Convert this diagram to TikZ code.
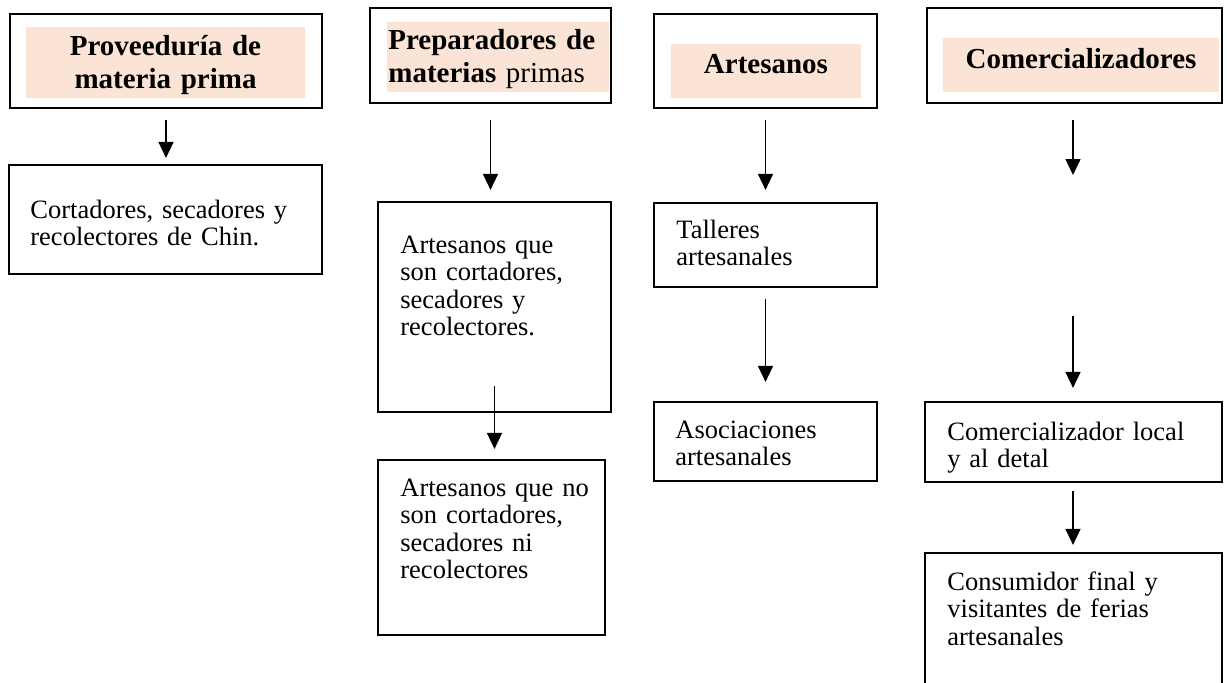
\documentclass[tikz,border=0pt]{standalone}
\usepackage{fontspec}
\setmainfont{Liberation Serif}
\usetikzlibrary{arrows.meta}
\definecolor{salmon}{HTML}{FBE4D5}
\tikzset{
	caja/.style={draw, line width=1.1pt, inner sep=0pt},
	sombra/.style={fill=salmon, draw=none, inner sep=0pt},
	titulo/.style={inner sep=0pt, font=\fontsize{14.5}{16.5}\selectfont\bfseries},
	texto/.style={inner sep=0pt, anchor=base west, align=left, text width=150pt, font=\fontsize{13.25}{13.75}\selectfont},
	flecha/.style={line width=0.8pt, -{Triangle[width=7.5pt,length=8pt]}}
}

\begin{document}
\begin{tikzpicture}[x=0.5pt, y=-0.5pt]
			%%%%% START %%%%%
			\clip (0,0) rectangle (1227,682);
			
			% cabeceras
			\node[caja, minimum width=156pt, minimum height=47pt] (hdrA) at (166,61) {};
			\node[sombra, minimum width=139.5pt, minimum height=35.5pt] (shA) at (165.5,62.5) {};
			\node[titulo, anchor=base, align=center, text width=139pt] (tHdrA) at (165.5,55) {Proveeduría de\\materia prima};
			
			\node[caja, minimum width=120.5pt, minimum height=47.5pt] (hdrB) at (490.5,55.5) {};
			\node[sombra, minimum width=111pt, minimum height=35pt] (shB) at (498,57) {};
			\node[titulo, anchor=base west, align=left, text width=111pt] (tHdrB) at (388,49) {Preparadores de\\materias {\mdseries primas}};
			
			\node[caja, minimum width=111.5pt, minimum height=47pt] (hdrC) at (765.5,61) {};
			\node[sombra, minimum width=95pt, minimum height=27pt] (shC) at (766,71) {};
			\node[titulo, anchor=base] (tHdrC) at (766,73) {Artesanos};
			
			\node[caja, minimum width=147.5pt, minimum height=47.5pt] (hdrD) at (1074.5,55.5) {};
			\node[sombra, minimum width=138pt, minimum height=27pt] (shD) at (1081,65) {};
			\node[titulo, anchor=base] (tHdrD) at (1081,68) {Comercializadores};
			
			% cajas
			\node[caja, minimum width=156.5pt, minimum height=54.5pt] (cortA) at (165.5,219.5) {};
			\node[texto] (tCortA) at (30,218) {Cortadores, secadores y\\recolectores de Chin.};
			
			\node[caja, minimum width=116.5pt, minimum height=105pt] (artQue) at (494.5,307) {};
			\node[texto] (tArtQue) at (400,253) {Artesanos que\\son cortadores,\\secadores y\\recolectores.};
			
			\node[caja, minimum width=113.5pt, minimum height=87.5pt] (artNo) at (491.5,547.5) {};
			\node[texto] (tArtNo) at (400,496) {Artesanos que no\\son cortadores,\\secadores ni\\recolectores};
			
			\node[caja, minimum width=111.5pt, minimum height=42pt] (talleres) at (765.5,245) {};
			\node[texto] (tTalleres) at (676,238) {Talleres\\artesanales};
			
			\node[caja, minimum width=111.5pt, minimum height=39.5pt] (asoc) at (765.5,441.5) {};
			\node[texto] (tAsoc) at (675,438) {Asociaciones\\artesanales};
			
			\node[caja, minimum width=148.5pt, minimum height=40pt] (comLocal) at (1073.5,442) {};
			\node[texto] (tComLocal) at (947,440) {Comercializador local\\y al detal};
			
			\node[caja, minimum width=148.5pt, minimum height=73.5pt] (consum) at (1073.5,626.5) {};
			\node[texto] (tConsum) at (947,590) {Consumidor final y\\visitantes de ferias\\artesanales};
			
			\coordinate (fD1) at (1073,175);
			\coordinate (fD2) at (1073,316);
			
			% flechas
			\draw[flecha, shorten <=5.5pt, shorten >=3pt] (hdrA.south) -- (hdrA.south |- cortA.north);
			\draw[flecha, shorten <=8pt, shorten >=5.5pt] (hdrB.south) -- (hdrB.south |- artQue.north);
			\draw[flecha, shorten >=5pt] ([yshift=13.5pt]artQue.south) -- (artNo.north -| artQue.south);
			\draw[flecha, shorten <=5.5pt, shorten >=6pt] (hdrC.south) -- (hdrC.south |- talleres.north);
			\draw[flecha, shorten <=5.5pt, shorten >=9.5pt] (talleres.south) -- (asoc.north);
			\draw[flecha, shorten <=8pt] (hdrD.south -| fD1) -- (fD1);
			\draw[flecha, shorten >=6.5pt] (fD2) -- (fD2 |- comLocal.north);
			\draw[flecha, shorten <=4pt, shorten >=3.5pt] (comLocal.south -| fD2) -- (consum.north -| fD2);
			
			%%%%% END %%%%%
\end{tikzpicture}
\end{document}
